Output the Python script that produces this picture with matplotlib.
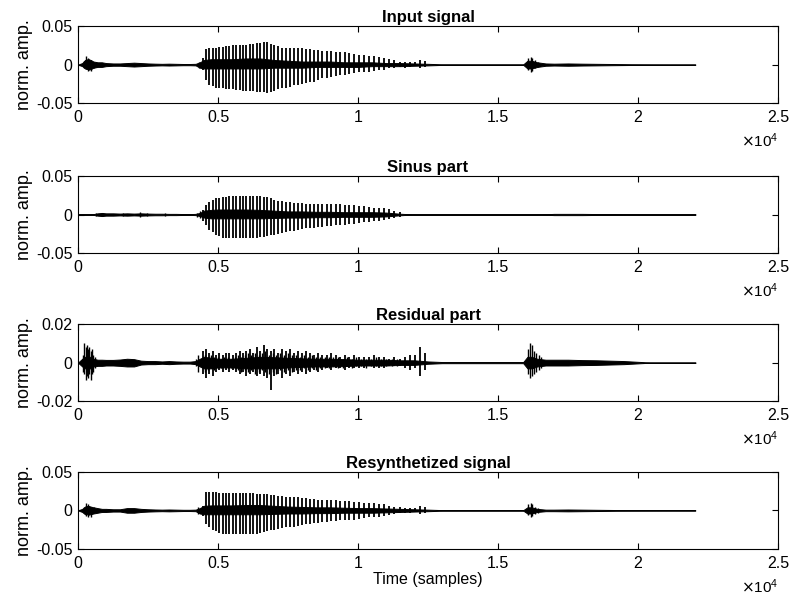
"""Sinusoidal + residual decomposition of a speech signal, four stacked panels."""
import matplotlib.pyplot as plt

plt.rcParams['font.family'] = ['Liberation Sans', 'DejaVu Sans']
plt.rcParams['font.size'] = 11.5

n_samples = 22050
x_ticks = [0, 5000, 10000, 15000, 20000, 25000]
x_tick_labels = ['0', '0.5', '1', '1.5', '2', '2.5']

titles = ['Input signal', 'Sinus part', 'Residual part', 'Resynthetized signal']
y_limits = [0.05, 0.05, 0.02, 0.05]
y_tick_labels = [['-0.05', '0', '0.05'], ['-0.05', '0', '0.05'],
                 ['-0.02', '0', '0.02'], ['-0.05', '0', '0.05']]

# pitch pulse positions (samples)
pitch_marks = [4464, 4571, 4690, 4810, 4929, 5048, 5167, 5286, 5405, 5536,
               5655, 5774, 5893, 6012, 6131, 6250, 6393, 6512, 6631, 6750,
               6893, 7012, 7155, 7286, 7417, 7560, 7702, 7845, 7988, 8131,
               8274, 8417, 8571, 8726, 8881, 9036, 9202, 9369, 9524, 9690,
               9857, 10024, 10202, 10381, 10560, 10738, 10917, 11107, 11298, 11488,
               11690, 11869, 12048, 12226, 12405]

input_hi = [0.009, 0.020, 0.021, 0.021, 0.022, 0.023, 0.023, 0.024, 0.024, 0.025,
            0.025, 0.025, 0.026, 0.026, 0.027, 0.027, 0.028, 0.028, 0.029, 0.029,
            0.027, 0.025, 0.024, 0.022, 0.022, 0.022, 0.021, 0.021, 0.021, 0.020,
            0.020, 0.019, 0.019, 0.018, 0.018, 0.018, 0.017, 0.017, 0.016, 0.015,
            0.014, 0.013, 0.012, 0.011, 0.011, 0.010, 0.009, 0.007, 0.006, 0.004,
            0.004, 0.003, 0.003, 0.006, 0.005]
input_lo = [-0.007, -0.020, -0.026, -0.028, -0.030, -0.031, -0.031, -0.032, -0.032, -0.032,
            -0.033, -0.033, -0.034, -0.034, -0.034, -0.034, -0.035, -0.035, -0.036, -0.037,
            -0.035, -0.034, -0.032, -0.031, -0.030, -0.029, -0.027, -0.026, -0.025, -0.024,
            -0.023, -0.022, -0.020, -0.018, -0.018, -0.016, -0.015, -0.014, -0.013, -0.012,
            -0.011, -0.010, -0.009, -0.009, -0.008, -0.007, -0.007, -0.005, -0.004, -0.003,
            -0.004, -0.003, -0.002, -0.004, -0.003]

sinus_hi = [0.006, 0.012, 0.016, 0.019, 0.021, 0.022, 0.023, 0.023, 0.024, 0.024,
            0.024, 0.024, 0.024, 0.024, 0.024, 0.024, 0.024, 0.024, 0.023, 0.023,
            0.021, 0.019, 0.018, 0.017, 0.016, 0.016, 0.015, 0.015, 0.015, 0.014,
            0.014, 0.014, 0.014, 0.014, 0.013, 0.013, 0.013, 0.013, 0.012, 0.012,
            0.012, 0.011, 0.011, 0.010, 0.009, 0.009, 0.008, 0.007, 0.005, 0.003,
            0, 0, 0, 0, 0]
sinus_lo = [-0.008, -0.014, -0.020, -0.023, -0.026, -0.028, -0.030, -0.031, -0.031, -0.031,
            -0.031, -0.031, -0.031, -0.030, -0.030, -0.030, -0.030, -0.029, -0.029, -0.028,
            -0.027, -0.026, -0.025, -0.024, -0.023, -0.022, -0.021, -0.020, -0.019, -0.018,
            -0.017, -0.017, -0.016, -0.016, -0.015, -0.015, -0.014, -0.013, -0.013, -0.012,
            -0.012, -0.011, -0.010, -0.010, -0.009, -0.008, -0.007, -0.006, -0.005, -0.003,
            0, 0, 0, 0, 0]

residual_hi = [0.006, 0.007, 0.005, 0.006, 0.004, 0.005, 0.004, 0.005, 0.005, 0.004,
               0.005, 0.006, 0.005, 0.006, 0.007, 0.005, 0.008, 0.006, 0.009, 0.007,
               0.006, 0.007, 0.005, 0.007, 0.006, 0.007, 0.005, 0.006, 0.005, 0.006,
               0.005, 0.004, 0.005, 0.004, 0.004, 0.005, 0.004, 0.003, 0.004, 0.003,
               0.004, 0.003, 0.003, 0.003, 0.004, 0.003, 0.003, 0.002, 0.003, 0.002,
               0.003, 0.004, 0.004, 0.008, 0.005]
residual_lo = [-0.006, -0.008, -0.006, -0.007, -0.005, -0.004, -0.005, -0.004, -0.005, -0.004,
               -0.005, -0.006, -0.005, -0.007, -0.006, -0.005, -0.007, -0.006, -0.007, -0.008,
               -0.014, -0.007, -0.006, -0.008, -0.006, -0.007, -0.005, -0.006, -0.005, -0.006,
               -0.005, -0.004, -0.005, -0.004, -0.003, -0.004, -0.003, -0.003, -0.004, -0.003,
               -0.003, -0.003, -0.003, -0.002, -0.003, -0.003, -0.003, -0.002, -0.002, -0.002,
               -0.003, -0.004, -0.003, -0.007, -0.004]

# secondary residual peaks between the pitch pulses
residual_mid_x = [4517, 4630, 4750, 4870, 4988, 5107, 5226, 5345, 5470, 5595,
                  5714, 5833, 5952, 6071, 6190, 6320, 6452, 6571, 6690, 6820,
                  6952, 7083, 7220, 7351, 7488, 7631, 7773, 7916, 8059, 8202,
                  8345, 8494, 8648, 8803, 8958, 9119, 9285, 9446, 9607, 9773,
                  9940, 10113, 10291, 10470, 10649, 10827, 11012, 11202, 11393]
residual_mid_hi = [0.004, 0.003, 0.004, 0.003, 0.003, 0.002, 0.003, 0.003, 0.002, 0.003,
                   0.004, 0.003, 0.004, 0.005, 0.004, 0.005, 0.004, 0.005, 0.006, 0.004,
                   0.005, 0.004, 0.005, 0.004, 0.005, 0.004, 0.004, 0.003, 0.004, 0.003,
                   0.004, 0.003, 0.003, 0.003, 0.003, 0.003, 0.003, 0.002, 0.003, 0.002,
                   0.003, 0.002, 0.002, 0.002, 0.003, 0.002, 0.002, 0.002, 0.002]
residual_mid_lo = [-0.005, -0.004, -0.003, -0.004, -0.003, -0.003, -0.002, -0.003, -0.003, -0.002,
                   -0.004, -0.005, -0.004, -0.005, -0.004, -0.006, -0.005, -0.004, -0.005, -0.006,
                   -0.005, -0.006, -0.004, -0.005, -0.004, -0.005, -0.004, -0.004, -0.003, -0.004,
                   -0.003, -0.004, -0.003, -0.003, -0.003, -0.002, -0.003, -0.003, -0.002, -0.003,
                   -0.002, -0.002, -0.003, -0.002, -0.002, -0.002, -0.002, -0.002, -0.002]

resynth_hi = [0.006, 0.024, 0.024, 0.024, 0.024, 0.023, 0.023, 0.023, 0.022, 0.022,
              0.022, 0.022, 0.022, 0.022, 0.022, 0.022, 0.021, 0.021, 0.021, 0.021,
              0.020, 0.020, 0.019, 0.019, 0.018, 0.018, 0.018, 0.017, 0.016, 0.016,
              0.015, 0.015, 0.014, 0.014, 0.014, 0.013, 0.013, 0.012, 0.012, 0.012,
              0.011, 0.011, 0.010, 0.010, 0.009, 0.008, 0.008, 0.006, 0.005, 0.004,
              0.003, 0.003, 0.003, 0.006, 0.004]
resynth_lo = [-0.007, -0.018, -0.022, -0.026, -0.027, -0.029, -0.030, -0.030, -0.031, -0.031,
              -0.031, -0.031, -0.031, -0.031, -0.030, -0.030, -0.030, -0.029, -0.028, -0.027,
              -0.026, -0.025, -0.024, -0.023, -0.022, -0.022, -0.021, -0.020, -0.019, -0.018,
              -0.017, -0.016, -0.016, -0.015, -0.015, -0.014, -0.014, -0.013, -0.013, -0.012,
              -0.012, -0.011, -0.010, -0.009, -0.009, -0.008, -0.007, -0.006, -0.005, -0.004,
              -0.003, -0.003, -0.002, -0.005, -0.003]

# transients (onsets, plosive bursts) that are off the pitch grid
input_burst_x = [230, 290, 340, 400, 470, 560, 650, 4330, 16080, 16160, 16230, 16320, 16420]
input_burst_hi = [0.005, 0.011, 0.009, 0.007, 0.006, 0.004, 0.003, 0.004, 0.008, 0.010, 0.009, 0.006, 0.004]
input_burst_lo = [-0.004, -0.006, -0.008, -0.007, -0.008, -0.005, -0.003, -0.005, -0.007, -0.009, -0.008, -0.005, -0.003]

sinus_burst_x = [650, 900, 1600, 2200, 2450, 3100, 4250, 4350]
sinus_burst_hi = [0.002, 0.0025, 0.002, 0.003, 0.002, 0.0015, 0.002, 0.004]
sinus_burst_lo = [-0.002, -0.002, -0.002, -0.003, -0.0015, -0.0015, -0.003, -0.005]

residual_burst_x = [180, 230, 270, 310, 350, 400, 450, 500, 550, 600,
                    4200, 4300, 16060, 16130, 16200, 16270, 16350, 16450, 16550]
residual_burst_hi = [0.004, 0.010, 0.008, 0.009, 0.007, 0.008, 0.006, 0.007, 0.004, 0.003,
                     0.002, 0.004, 0.007, 0.010, 0.009, 0.006, 0.005, 0.004, 0.003]
residual_burst_lo = [-0.005, -0.006, -0.009, -0.007, -0.008, -0.006, -0.009, -0.006, -0.005, -0.003,
                     -0.002, -0.005, -0.006, -0.008, -0.007, -0.006, -0.005, -0.004, -0.003]
residual_burst_x += residual_mid_x
residual_burst_hi += residual_mid_hi
residual_burst_lo += residual_mid_lo

resynth_burst_x = [230, 290, 340, 400, 470, 560, 4300, 4380, 16080, 16160, 16230, 16320, 16420]
resynth_burst_hi = [0.004, 0.010, 0.008, 0.006, 0.005, 0.004, 0.004, 0.003, 0.008, 0.010, 0.008, 0.005, 0.003]
resynth_burst_lo = [-0.004, -0.007, -0.008, -0.006, -0.008, -0.004, -0.005, -0.004, -0.006, -0.008, -0.007, -0.005, -0.003]

# envelope of the dense low-level part of each waveform
band_x = [0, 150, 250, 350, 450, 550, 700, 850, 1000, 1250,
          1500, 1750, 2000, 2250, 2500, 2750, 3000, 3250, 3500, 3750,
          4000, 4200, 4350, 4500, 4750, 5000, 5500, 6000, 6500, 7000,
          7500, 8000, 8500, 9000, 9500, 10000, 10500, 11000, 11500, 12000,
          12500, 13000, 15900, 16050, 16200, 16400, 16700, 17000, 17500, 18000,
          18500, 19000, 19500, 20000, 20500, n_samples]

input_band_hi = [0, 0.002, 0.006, 0.007, 0.006, 0.004, 0.003, 0.003, 0.002, 0.0015,
                 0.0015, 0.002, 0.0025, 0.002, 0.0015, 0.0012, 0.001, 0.0012, 0.001, 0.0008,
                 0.0008, 0.001, 0.003, 0.006, 0.007, 0.007, 0.007, 0.008, 0.008, 0.006,
                 0.005, 0.004, 0.004, 0.004, 0.003, 0.003, 0.003, 0.002, 0.002, 0.0015,
                 0.001, 0.0004, 0.0003, 0.005, 0.005, 0.003, 0.0015, 0.0012, 0.0015, 0.0012,
                 0.001, 0.0008, 0.0006, 0.0004, 0.0002, 0]
input_band_lo = [0, -0.002, -0.005, -0.006, -0.006, -0.004, -0.003, -0.003, -0.002, -0.0015,
                 -0.0015, -0.002, -0.0025, -0.002, -0.0015, -0.0012, -0.001, -0.0012, -0.001, -0.0008,
                 -0.0008, -0.001, -0.004, -0.005, -0.005, -0.005, -0.005, -0.005, -0.005, -0.004,
                 -0.004, -0.004, -0.003, -0.003, -0.003, -0.003, -0.002, -0.002, -0.002, -0.0015,
                 -0.001, -0.0004, -0.0003, -0.005, -0.005, -0.003, -0.0015, -0.0012, -0.0015, -0.0012,
                 -0.001, -0.0008, -0.0006, -0.0004, -0.0002, 0]

sinus_band_hi = [0, 0, 0, 0, 0, 0.0005, 0.0015, 0.002, 0.0015, 0.0015,
                 0.0012, 0.0015, 0.0012, 0.0015, 0.0012, 0.001, 0.001, 0.0008, 0.0008, 0.0006,
                 0.0005, 0.0008, 0.002, 0.005, 0.006, 0.0065, 0.0065, 0.0065, 0.006, 0.005,
                 0.004, 0.004, 0.0035, 0.0035, 0.003, 0.003, 0.003, 0.0025, 0.001, 0,
                 0, 0, 0, 0, 0, 0, 0.0003, 0.0008, 0.0008, 0.0008,
                 0.0006, 0.0005, 0.0003, 0, 0, 0]
sinus_band_lo = [0, 0, 0, 0, 0, -0.0005, -0.0015, -0.002, -0.0015, -0.0015,
                 -0.0012, -0.0015, -0.0012, -0.0015, -0.0012, -0.001, -0.001, -0.0008, -0.0008, -0.0006,
                 -0.0005, -0.0008, -0.002, -0.004, -0.005, -0.005, -0.005, -0.005, -0.005, -0.0045,
                 -0.004, -0.004, -0.0035, -0.0035, -0.003, -0.003, -0.003, -0.0025, -0.001, 0,
                 0, 0, 0, 0, 0, 0, -0.0003, -0.0008, -0.0008, -0.0008,
                 -0.0006, -0.0005, -0.0003, 0, 0, 0]

residual_band_hi = [0, 0.002, 0.003, 0.003, 0.003, 0.002, 0.0015, 0.0015, 0.0014, 0.0014,
                    0.0016, 0.002, 0.0018, 0.001, 0.0008, 0.0008, 0.0006, 0.0008, 0.0006, 0.0005,
                    0.0005, 0.0008, 0.002, 0.003, 0.0025, 0.002, 0.002, 0.0025, 0.003, 0.0028,
                    0.0025, 0.0022, 0.002, 0.002, 0.0018, 0.0015, 0.0015, 0.0015, 0.0012, 0.0012,
                    0.0006, 0.0003, 0.0003, 0.003, 0.003, 0.002, 0.0015, 0.0015, 0.0015, 0.0013,
                    0.0012, 0.001, 0.0008, 0.0004, 0, 0]
residual_band_lo = [0, -0.002, -0.003, -0.003, -0.003, -0.002, -0.0017, -0.0017, -0.0015, -0.0015,
                    -0.0017, -0.002, -0.002, -0.001, -0.0008, -0.0008, -0.0006, -0.0008, -0.0006, -0.0005,
                    -0.0005, -0.0008, -0.002, -0.003, -0.003, -0.0025, -0.0025, -0.003, -0.003, -0.003,
                    -0.0025, -0.0022, -0.002, -0.002, -0.0018, -0.0015, -0.0015, -0.0015, -0.0012, -0.0012,
                    -0.0006, -0.0003, -0.0003, -0.003, -0.003, -0.002, -0.0015, -0.0015, -0.0015, -0.0013,
                    -0.0012, -0.001, -0.0008, -0.0004, 0, 0]

resynth_band_hi = [0, 0.002, 0.005, 0.006, 0.005, 0.004, 0.003, 0.002, 0.002, 0.0015,
                   0.0015, 0.003, 0.003, 0.002, 0.0015, 0.0012, 0.001, 0.0012, 0.001, 0.0008,
                   0.0008, 0.001, 0.003, 0.006, 0.0065, 0.0065, 0.0065, 0.007, 0.007, 0.006,
                   0.005, 0.0045, 0.004, 0.004, 0.0035, 0.003, 0.003, 0.0025, 0.002, 0.0015,
                   0.001, 0.0004, 0.0003, 0.004, 0.004, 0.002, 0.001, 0.001, 0.0012, 0.001,
                   0.0008, 0.0006, 0.0004, 0.0003, 0.0002, 0]
resynth_band_lo = [0, -0.002, -0.005, -0.005, -0.005, -0.004, -0.003, -0.002, -0.002, -0.0015,
                   -0.0015, -0.003, -0.003, -0.002, -0.0015, -0.0012, -0.001, -0.0012, -0.001, -0.0008,
                   -0.0008, -0.001, -0.004, -0.005, -0.005, -0.005, -0.005, -0.005, -0.005, -0.0045,
                   -0.004, -0.004, -0.0035, -0.0035, -0.003, -0.003, -0.003, -0.0025, -0.002, -0.0015,
                   -0.001, -0.0004, -0.0003, -0.004, -0.004, -0.002, -0.001, -0.001, -0.0012, -0.001,
                   -0.0008, -0.0006, -0.0004, -0.0003, -0.0002, 0]

panels = [
    (input_band_hi, input_band_lo, input_hi, input_lo, input_burst_x, input_burst_hi, input_burst_lo),
    (sinus_band_hi, sinus_band_lo, sinus_hi, sinus_lo, sinus_burst_x, sinus_burst_hi, sinus_burst_lo),
    (residual_band_hi, residual_band_lo, residual_hi, residual_lo,
     residual_burst_x, residual_burst_hi, residual_burst_lo),
    (resynth_band_hi, resynth_band_lo, resynth_hi, resynth_lo,
     resynth_burst_x, resynth_burst_hi, resynth_burst_lo),
]

fig = plt.figure(figsize=(7.89, 5.96), dpi=100)
axes_bottoms = [0.827, 0.5755, 0.327, 0.079]

for i, (bhi, blo, phi, plo, bx, bxhi, bxlo) in enumerate(panels):
    ax = fig.add_axes([0.0989, axes_bottoms[i], 0.8872, 0.1292])
    ax.fill_between(band_x, blo, bhi, color='black', linewidth=0.7)
    ax.vlines(pitch_marks, plo, phi, color='black', linewidth=1.3)
    ax.vlines(bx, bxlo, bxhi, color='black', linewidth=1.0)

    lim = y_limits[i]
    ax.set_xlim(0, 25000)
    ax.set_ylim(-lim, lim)
    ax.set_xticks(x_ticks)
    ax.set_xticklabels(x_tick_labels)
    ax.set_yticks([-lim, 0, lim])
    ax.set_yticklabels(y_tick_labels[i])
    ax.tick_params(direction='in', top=True, right=True, length=4, width=0.8,
                   labelsize=11.5)
    ax.tick_params(axis='x', pad=5)
    ax.tick_params(axis='y', pad=4)
    for spine in ax.spines.values():
        spine.set_linewidth(0.8)
    ax.set_title(titles[i], fontweight='bold', fontsize=12, pad=3)
    ax.set_ylabel('norm. amp.', fontsize=13, labelpad=2)
    ax.text(1.0, -0.37, r'$\times\mathregular{10^{4}}$', transform=ax.transAxes,
            ha='right', va='top', fontsize=11)
    if i == 3:
        ax.set_xlabel('Time (samples)', fontsize=11.5, labelpad=1)

fig.savefig('out.png', dpi=100)
